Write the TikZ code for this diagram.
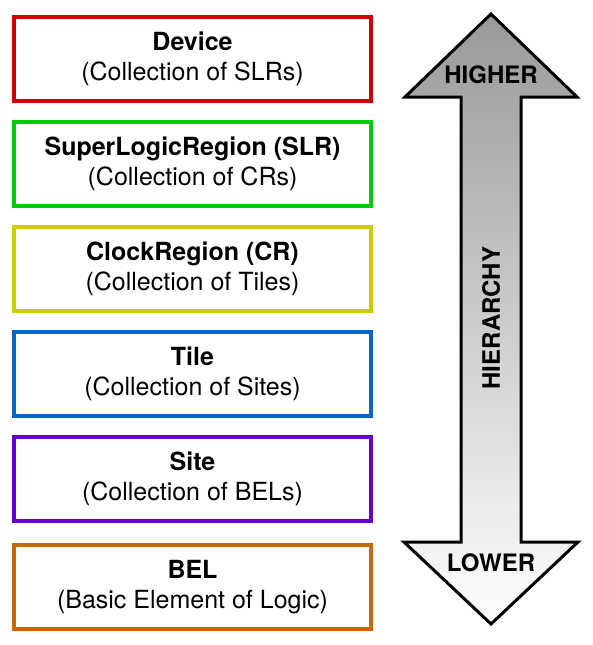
\documentclass[tikz,border=0pt]{standalone}
\usepackage{fontspec}
\setmainfont{TeX Gyre Heros}
\usetikzlibrary{positioning}

\definecolor{devred}{HTML}{CC0000}
\definecolor{slrgreen}{HTML}{00CC00}
\definecolor{cryellow}{HTML}{CCCC00}
\definecolor{tileblue}{HTML}{0066CC}
\definecolor{sitepurple}{HTML}{6600CC}
\definecolor{belorange}{HTML}{CC6600}

\tikzset{
    level/.style={draw=#1, line width=3.5pt, fill=white, minimum width=357pt,
        minimum height=84pt, align=center, inner sep=0pt, outer sep=0pt,
        font=\fontsize{25}{30}\selectfont},
    arrowtext/.style={font=\fontsize{24}{28}\selectfont\bfseries}
}

\begin{document}
\begin{tikzpicture}[x=1pt, y=-1pt]
    \useasboundingbox (0,0) rectangle (592,645);
    % hierarchy levels
    \node[level=devred] (device) at (192.5,59) {\textbf{Device}\\(Collection of SLRs)};
    \node[level=slrgreen, below=21pt of device] (slr) {\textbf{SuperLogicRegion (SLR)}\\(Collection of CRs)};
    \node[level=cryellow, below=21pt of slr] (cr) {\textbf{ClockRegion (CR)}\\(Collection of Tiles)};
    \node[level=tileblue, below=21pt of cr] (tile) {\textbf{Tile}\\(Collection of Sites)};
    \node[level=sitepurple, below=21pt of tile] (site) {\textbf{Site}\\(Collection of BELs)};
    \node[level=belorange, below=24pt of site] (bel) {\textbf{BEL}\\(Basic Element of Logic)};
    % double arrow
    \shade[top color=black!40, bottom color=white, draw=black, line width=3pt, line join=miter]
        (491,14) -- (577,97) -- (521,97) -- (521,542) -- (578,542) -- (491,624)
        -- (404,542) -- (461,542) -- (461,97) -- (405,97) -- cycle;
    \node[arrowtext] (higher) at (491,75) {HIGHER};
    \node[arrowtext] (lower) at (491,563) {LOWER};
    \node[arrowtext, rotate=90] (hier) at (491,318) {HIERARCHY};
\end{tikzpicture}
\end{document}
